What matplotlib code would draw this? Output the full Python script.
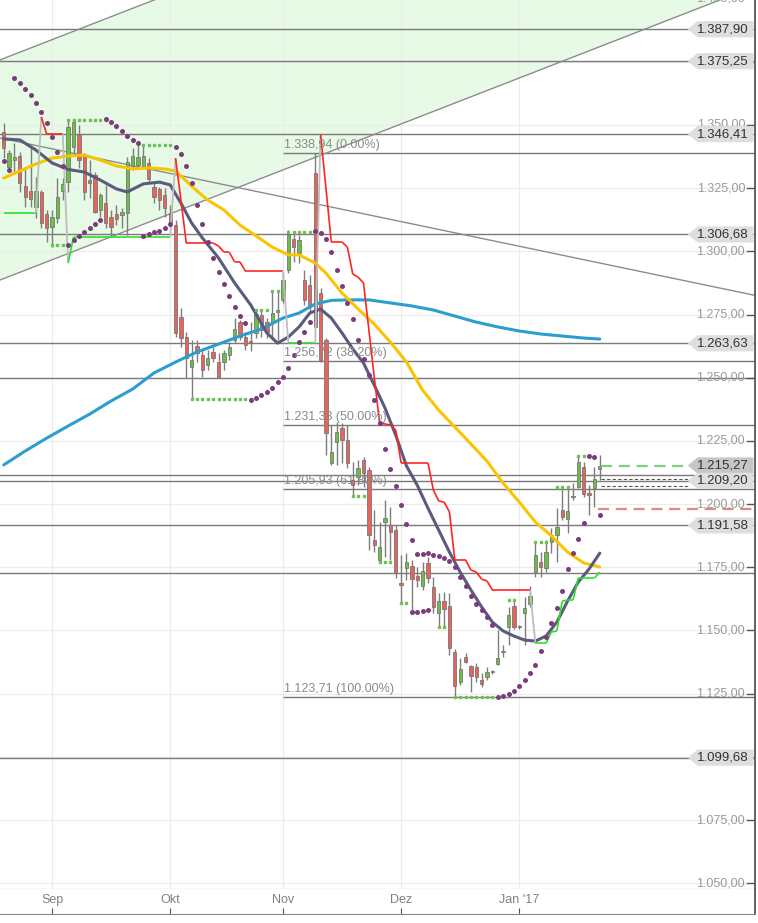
import numpy as np
import pandas as pd
import matplotlib
matplotlib.use("Agg")
import matplotlib.pyplot as plt
import matplotlib.transforms as mtransforms
from matplotlib.patches import Polygon
from matplotlib.collections import LineCollection

plt.rcParams['font.family'] = ['Liberation Sans', 'DejaVu Sans']

# ---- daily candles (gold, Aug 2016 - Jan 2017) ----
dates = pd.bdate_range('2016-08-19', '2017-01-23')

opens = [1347.2, 1333.4, 1336.1, 1337.7, 1325.9, 1323.9, 1317.6, 1323.5, 1314.8, 1309.6,
         1313.2, 1323.9, 1327.4, 1341.3, 1346.0, 1338.5, 1328.2, 1330.2, 1316.4, 1319.1,
         1313.6, 1314.8, 1314.4, 1315.2, 1333.8, 1334.2, 1333.8, 1335.0, 1325.5, 1324.7,
         1322.3, 1315.2, 1310.4, 1274.0, 1266.1, 1254.2, 1262.5, 1259.0, 1255.0, 1260.2,
         1256.2, 1256.2, 1259.0, 1264.9, 1272.0, 1266.1, 1264.5, 1267.7, 1274.8, 1272.0,
         1272.0, 1276.0, 1280.8, 1292.6, 1304.9, 1299.4, 1288.7, 1286.7, 1331.0, 1283.5,
         1264.9, 1216.3, 1224.6, 1230.1, 1225.3, 1209.5, 1210.7, 1217.4, 1213.5, 1185.8,
         1177.9, 1192.9, 1191.7, 1189.7, 1168.8, 1174.7, 1175.5, 1171.5, 1167.6, 1176.7,
         1167.2, 1156.9, 1161.6, 1159.7, 1141.5, 1129.6, 1139.5, 1135.9, 1135.5, 1130.4,
         1131.6, 1133.6, 1136.7, 1141.5, 1151.4, 1159.7, 1151.4, 1156.9, 1160.5, 1173.1,
         1177.1, 1174.7, 1185.0, 1187.8, 1197.7, 1194.1, 1202.8, 1206.8, 1214.7, 1204.4,
         1206.4, 1213.9]
highs = [1350.8, 1340.1, 1342.9, 1339.3, 1333.0, 1341.3, 1329.4, 1324.3, 1316.4, 1316.4,
         1329.0, 1329.0, 1352.0, 1352.0, 1350.0, 1338.9, 1336.1, 1331.4, 1323.1, 1326.3,
         1316.4, 1318.3, 1317.2, 1337.3, 1340.9, 1342.1, 1341.7, 1336.9, 1327.0, 1325.5,
         1325.1, 1318.3, 1312.4, 1277.6, 1268.1, 1264.9, 1264.9, 1261.0, 1261.0, 1262.2,
         1259.8, 1261.0, 1264.1, 1273.6, 1272.8, 1268.1, 1272.0, 1277.2, 1276.8, 1273.6,
         1283.9, 1284.7, 1291.8, 1308.5, 1306.9, 1306.5, 1292.6, 1290.6, 1338.94, 1285.5,
         1265.7, 1231.3, 1232.5, 1232.1, 1231.3, 1216.6, 1217.4, 1218.6, 1214.7, 1197.7,
         1192.9, 1201.6, 1198.8, 1191.7, 1179.9, 1180.6, 1177.9, 1175.1, 1177.1, 1179.1,
         1171.1, 1164.8, 1165.2, 1164.8, 1142.7, 1139.1, 1141.1, 1136.3, 1137.1, 1133.2,
         1135.5, 1134.3, 1150.2, 1144.2, 1159.3, 1162.0, 1152.2, 1163.2, 1167.6, 1185.0,
         1181.0, 1185.8, 1190.5, 1198.4, 1206.8, 1206.8, 1208.3, 1219.4, 1216.6, 1207.5,
         1214.7, 1219.4]
lows = [1336.9, 1331.4, 1331.4, 1323.5, 1317.6, 1317.6, 1313.2, 1309.2, 1303.7, 1301.7,
        1311.2, 1320.3, 1323.5, 1338.1, 1333.0, 1320.3, 1321.1, 1315.2, 1313.6, 1309.2,
        1305.7, 1310.4, 1309.2, 1306.5, 1332.2, 1333.0, 1333.4, 1327.0, 1319.1, 1316.4,
        1313.6, 1309.6, 1266.1, 1262.2, 1249.9, 1241.2, 1256.2, 1250.3, 1253.1, 1256.2,
        1249.9, 1253.1, 1257.0, 1263.7, 1264.9, 1261.0, 1260.6, 1265.7, 1266.1, 1265.7,
        1264.9, 1264.9, 1279.6, 1291.4, 1295.8, 1295.4, 1278.8, 1275.6, 1269.7, 1256.2,
        1219.4, 1215.5, 1215.5, 1216.3, 1214.3, 1202.8, 1207.5, 1206.8, 1181.8, 1181.0,
        1177.1, 1179.1, 1177.9, 1170.8, 1160.9, 1169.9, 1156.9, 1167.2, 1166.0, 1168.8,
        1156.9, 1151.4, 1151.4, 1140.3, 1123.71, 1128.4, 1137.1, 1125.6, 1129.6, 1127.6,
        1130.4, 1132.8, 1136.3, 1139.5, 1144.2, 1150.6, 1150.6, 1144.2, 1159.3, 1171.1,
        1171.1, 1173.1, 1180.6, 1177.1, 1193.7, 1188.5, 1201.6, 1206.4, 1202.8, 1195.7,
        1198.8, 1209.5]
closes = [1340.9, 1338.9, 1337.3, 1327.0, 1321.5, 1320.7, 1323.9, 1311.2, 1309.2, 1313.6,
          1321.5, 1326.7, 1349.2, 1351.2, 1336.1, 1323.5, 1327.0, 1315.6, 1322.3, 1311.2,
          1309.6, 1312.8, 1315.6, 1335.4, 1337.7, 1337.3, 1337.7, 1328.6, 1321.5, 1320.3,
          1317.2, 1311.6, 1267.7, 1265.7, 1257.8, 1257.0, 1259.8, 1253.1, 1257.8, 1257.8,
          1250.3, 1259.8, 1262.2, 1269.3, 1266.1, 1262.9, 1263.7, 1275.2, 1268.9, 1268.1,
          1275.6, 1276.8, 1288.7, 1306.5, 1301.7, 1304.5, 1280.8, 1278.8, 1270.1, 1257.0,
          1228.1, 1220.6, 1228.5, 1225.3, 1216.3, 1207.5, 1214.3, 1212.3, 1187.8, 1183.8,
          1183.0, 1194.5, 1189.0, 1172.7, 1168.0, 1177.1, 1170.4, 1169.9, 1173.5, 1170.8,
          1159.3, 1161.6, 1158.5, 1143.1, 1128.0, 1134.7, 1137.5, 1132.0, 1131.6, 1128.8,
          1133.6, 1133.9, 1139.1, 1141.8, 1156.1, 1151.4, 1151.6, 1158.9, 1163.6, 1179.9,
          1175.1, 1181.0, 1187.8, 1190.9, 1194.9, 1197.3, 1203.0, 1216.6, 1204.0, 1203.6,
          1209.9, 1215.27]

# ---- moving averages (read at sample candles) ----
sma50_idx = [0, 3, 6, 9, 12, 15, 18, 21, 24, 27, 30, 32, 34, 36, 38, 41, 44, 47, 50, 53,
             55, 58, 60, 63, 66, 69, 72, 75, 78, 81, 84, 87, 90, 93, 96, 99, 102, 105, 108, 111]
sma50 = [1329.0, 1331.8, 1334.6, 1336.9, 1337.7, 1338.1, 1336.1, 1333.8, 1332.6, 1333.0,
         1332.6, 1331.8, 1327.8, 1323.9, 1320.3, 1316.4, 1310.4, 1306.1, 1301.7, 1298.6,
         1298.6, 1295.4, 1291.4, 1283.5, 1277.2, 1271.2, 1264.1, 1256.2, 1245.1, 1237.2,
         1230.5, 1223.8, 1217.0, 1208.3, 1200.8, 1192.9, 1187.4, 1181.0, 1176.7, 1175.1]
sma20_idx = [0, 3, 6, 9, 12, 15, 18, 21, 23, 26, 29, 31, 33, 35, 37, 40, 43, 46, 49, 51,
             53, 55, 57, 59, 61, 63, 65, 67, 69, 71, 73, 75, 77, 79, 81, 83, 85, 87, 89, 91,
             93, 95, 97, 99, 101, 103, 105, 107, 109, 111]
sma20 = [1344.5, 1344.1, 1340.1, 1335.0, 1332.4, 1331.4, 1328.2, 1324.7, 1323.5, 1326.7,
         1327.4, 1326.3, 1319.1, 1311.2, 1305.3, 1297.4, 1287.5, 1278.8, 1267.7, 1263.7,
         1266.1, 1270.1, 1275.6, 1277.2, 1273.6, 1267.7, 1261.4, 1255.8, 1247.1, 1238.0,
         1227.3, 1215.1, 1207.5, 1198.4, 1189.7, 1181.0, 1173.1, 1166.0, 1159.3, 1153.3,
         1149.8, 1147.8, 1146.2, 1145.8, 1147.8, 1153.3, 1161.6, 1169.2, 1174.3, 1180.6]
sma200_idx = [0, 4, 8, 12, 16, 20, 24, 28, 32, 36, 40, 44, 48, 52, 55, 58, 61, 64, 68, 72,
              76, 80, 84, 88, 92, 96, 100, 104, 108, 111]
sma200 = [1215.5, 1221.0, 1226.1, 1230.9, 1235.6, 1240.8, 1245.5, 1251.9, 1256.2, 1260.2,
          1263.3, 1266.5, 1269.3, 1273.6, 1275.6, 1279.2, 1280.6, 1280.8, 1280.8, 1279.6,
          1278.4, 1276.8, 1274.4, 1272.0, 1270.1, 1268.5, 1267.3, 1266.5, 1265.7, 1265.3]

# ---- trailing stop line (1 = long/green, 0 = short/red) ----
stop = [1315.2, 1315.2, 1315.2, 1315.2, 1315.2, 1315.2, 1315.2, 1353.2, 1346.4, 1346.4,
        1346.4, 1346.4, 1295.4, 1305.7, 1305.7, 1305.7, 1305.7, 1305.7, 1305.7, 1305.7,
        1305.7, 1305.7, 1305.7, 1305.7, 1305.7, 1305.7, 1305.7, 1305.7, 1305.7, 1305.7,
        1305.7, 1305.7, 1336.9, 1320.3, 1303.3, 1303.3, 1303.3, 1303.3, 1303.3, 1303.3,
        1302.1, 1299.7, 1299.7, 1295.8, 1295.8, 1292.2, 1292.2, 1292.2, 1292.2, 1292.2,
        1292.2, 1292.2, 1292.2, 1263.63, 1263.63, 1263.63, 1263.63, 1263.63, 1263.63, 1346.41,
        1325.1, 1303.7, 1303.7, 1303.7, 1301.7, 1291.0, 1289.8, 1287.5, 1268.9, 1250.3,
        1232.1, 1231.7, 1231.3, 1229.3, 1216.3, 1216.3, 1216.3, 1216.3, 1216.3, 1216.3,
        1205.6, 1201.2, 1200.8, 1196.9, 1177.9, 1177.9, 1177.9, 1173.9, 1173.1, 1170.3,
        1169.6, 1166.0, 1166.0, 1166.0, 1166.0, 1166.0, 1166.0, 1166.0, 1166.0, 1145.0,
        1145.0, 1145.0, 1149.4, 1149.8, 1161.6, 1162.0, 1162.0, 1170.7, 1170.7, 1170.7,
        1170.7, 1173.1]
stop_up = [1, 1, 1, 1, 1, 1, 1, 0, 0, 0,
           0, 0, 1, 1, 1, 1, 1, 1, 1, 1,
           1, 1, 1, 1, 1, 1, 1, 1, 1, 1,
           1, 1, 0, 0, 0, 0, 0, 0, 0, 0,
           0, 0, 0, 0, 0, 0, 0, 0, 0, 0,
           0, 0, 0, 1, 1, 1, 1, 1, 1, 0,
           0, 0, 0, 0, 0, 0, 0, 0, 0, 0,
           0, 0, 0, 0, 0, 0, 0, 0, 0, 0,
           0, 0, 0, 0, 0, 0, 0, 0, 0, 0,
           0, 0, 0, 0, 0, 0, 0, 0, 0, 1,
           1, 1, 1, 1, 1, 1, 1, 1, 1, 1,
           1, 1]

# ---- parabolic SAR ----
sar = [1335.8, 1332.2, 1368.6, 1366.6, 1364.2, 1361.9, 1358.7, 1355.1, 1350.8, 1345.3,
       1339.3, 1333.8, 1302.5, 1304.5, 1306.1, 1307.7, 1309.2, 1310.8, 1312.4, 1352.4,
       1351.2, 1349.6, 1347.6, 1345.6, 1344.1, 1342.9, 1306.1, 1306.9, 1307.7, 1308.1,
       1309.2, 1310.8, 1341.3, 1338.5, 1333.8, 1327.0, 1318.3, 1310.8, 1303.7, 1297.4,
       1291.8, 1287.1, 1282.3, 1278.0, 1274.4, 1271.6, 1241.2, 1242.0, 1243.2, 1244.3,
       1245.9, 1248.3, 1250.3, 1253.8, 1259.0, 1264.1, 1268.1, 1272.0, 1308.1, 1307.3,
       1304.9, 1299.7, 1292.6, 1286.3, 1279.6, 1273.2, 1264.9, 1257.4, 1251.1, 1241.2,
       1232.1, 1221.8, 1213.9, 1207.2, 1199.6, 1192.1, 1185.8, 1180.2, 1180.2, 1180.6,
       1179.9, 1179.5, 1178.7, 1177.5, 1175.1, 1171.1, 1167.6, 1163.6, 1160.5, 1158.1,
       1155.3, 1152.2, 1123.7, 1124.1, 1124.8, 1126.0, 1128.0, 1130.4, 1133.2, 1136.3,
       1141.9, 1147.4, 1152.9, 1158.9, 1165.6, 1174.3, 1180.6, 1186.2, 1192.5, 1219.0,
       1218.6, 1195.7]
sar_extra_idx = [76, 77, 78, 79]
sar_extra = [1157.3, 1157.3, 1157.7, 1158.1]

# ---- dotted swing levels ----
swing_start = [9, 12, 26, 35, 47, 50, 53, 65, 70, 74, 81, 84, 94, 99, 103, 107]
swing_end = [11, 19, 31, 46, 49, 51, 58, 67, 72, 75, 82, 91, 95, 101, 105, 109]
swing_price = [1302.5, 1352.0, 1342.1, 1241.4, 1276.8, 1284.5, 1307.8, 1203.2, 1177.2,
               1160.7, 1151.4, 1123.7, 1162.0, 1185.0, 1206.9, 1219.0]

# ---- drawn objects ----
hlines = [1387.90, 1375.25, 1346.41, 1306.68, 1263.63, 1250.00, 1211.5, 1209.20,
          1191.58, 1172.7, 1099.68]
fib_start = 52
fib_levels = [1338.94, 1256.72, 1231.33, 1205.93, 1123.71]
fib_pct = ['0.00%', '38.20%', '50.00%', '61.80%', '100.00%']
chan_idx = [-1, 141]
chan_low = [1288.4, 1405.8]
chan_high = [1375.5, 1492.9]
down_line = [1345.0, 1282.1]
box_prices = [1387.90, 1375.25, 1346.41, 1306.68, 1263.63, 1215.27, 1209.20, 1191.58, 1099.68]
last_price = 1215.27
order_lines = [1209.8, 1207.3]
stop_order = 1198.2
# axis labels hidden behind a price box in the original are left out
price_ticks = [1050, 1075, 1125, 1150, 1175, 1200, 1225, 1250, 1275, 1300, 1325, 1350, 1400]
grid_ticks = list(range(1050, 1401, 25))


def de_fmt(v):
    s = f"{v:,.2f}"
    return s.replace(',', 'X').replace('.', ',').replace('X', '.')


o = np.array(opens); h = np.array(highs); l = np.array(lows); c = np.array(closes)
x = np.arange(len(dates))
xmin, xmax = -0.69, 139.9
ymin, ymax = 1047.7, 1399.46

fig = plt.figure(figsize=(7.58, 9.23), dpi=100)
ax = fig.add_axes([0, 34 / 923, 755 / 758, 889 / 923])
ax.set_xlim(xmin, xmax)
ax.set_ylim(ymin, ymax)
ax.set_xticks([]); ax.set_yticks([])
for s in ['top', 'left']:
    ax.spines[s].set_visible(False)
ax.spines['bottom'].set_color('#9a9a9a')
ax.spines['right'].set_color('#555555')
ax.spines['right'].set_linewidth(1.3)

blend = mtransforms.blended_transform_factory(ax.transAxes, ax.transData)

# month positions
month_idx = [i for i in range(1, len(dates)) if dates[i].month != dates[i - 1].month]
names = {1: 'Jan', 9: 'Sep', 10: 'Okt', 11: 'Nov', 12: 'Dez'}
month_lab = []
for i in month_idx:
    d = dates[i]
    lab = names[d.month]
    if d.month == 1:
        lab += " '" + str(d.year)[2:]
    month_lab.append(lab)

# grid
for v in grid_ticks:
    ax.axhline(v, color='#ececec', lw=0.9, zorder=0.5)
for i in month_idx:
    ax.axvline(i, color='#ececec', lw=0.9, zorder=0.5)

# channel
ax.fill_between(chan_idx, chan_low, chan_high, color='#e6fae6', zorder=0.2, lw=0)
ax.plot(chan_idx, chan_low, color='#8c8c8c', lw=1.0, zorder=1.6)
ax.plot(chan_idx, chan_high, color='#8c8c8c', lw=1.0, zorder=1.6)
ax.plot(chan_idx, down_line, color='#8c8c8c', lw=1.0, zorder=1.6)

# horizontal levels
for v in hlines:
    ax.axhline(v, color='#7a7a7a', lw=1.0, zorder=1.5)
for v, p in zip(fib_levels, fib_pct):
    ax.hlines(v, fib_start, xmax, color='#7a7a7a', lw=1.0, zorder=1.5)
    ax.text(fib_start + 0.2, v + 0.7, f"{de_fmt(v)} ({p})", fontsize=9,
            color='#8a8a8a', ha='left', va='bottom', zorder=6)

# price axis labels
for v in price_ticks:
    ax.text(0.987, v, de_fmt(v), transform=blend, ha='right', va='center',
            fontsize=9, color='#9a9a9a', zorder=6)
for v in grid_ticks:
    ax.plot([0.990, 0.998], [v, v], transform=blend, color='#555555', lw=1.0, zorder=6)

# candles
up = c >= o
ax.vlines(x, l, h, color='#7d7d7d', lw=1.0, zorder=3)
body_lo = np.minimum(o, c)
body_h = np.maximum(np.abs(c - o), 0.5)
ax.bar(x, body_h, bottom=body_lo, width=0.62,
       color=np.where(up, '#6cbf45', '#e9635b'), edgecolor='#777777',
       linewidth=0.6, zorder=3.2)

# moving averages
ax.plot(sma200_idx, sma200, color='#2b9ecf', lw=2.2, zorder=4, solid_capstyle='round')
ax.plot(sma50_idx, sma50, color='#fbc400', lw=2.2, zorder=4, solid_capstyle='round')
ax.plot(sma20_idx, sma20, color='#5b5b7e', lw=2.2, zorder=4.1, solid_capstyle='round')

# stop line
segs, cols, widths = [], [], []
for i in range(1, len(stop)):
    segs.append([(i - 1, stop[i - 1]), (i, stop[i])])
    if stop_up[i] != stop_up[i - 1]:
        cols.append('#bdbdbd'); widths.append(1.3)
    elif stop_up[i]:
        cols.append('#2be02b'); widths.append(1.2)
    else:
        cols.append('#ff2424'); widths.append(1.2)
ax.add_collection(LineCollection(segs, colors=cols, linewidths=widths, zorder=4.5))

# swing level dots
for s0, s1, p in zip(swing_start, swing_end, swing_price):
    xs = np.arange(s0, s1 + 1)
    ax.plot(xs, [p] * len(xs), ls='none', marker='s', ms=1.6, color='#6fbf5a', zorder=4.6)

# SAR
ax.plot(x, sar, ls='none', marker='o', ms=3.6, color='#7b3c7b', mew=0, zorder=5)
ax.plot(sar_extra_idx, sar_extra, ls='none', marker='o', ms=3.6, color='#7b3c7b', mew=0, zorder=5)

# order / stop lines at the right
x_last = len(dates) - 1
ax.hlines(last_price, x_last + 0.3, 127.8, color='#7fcf7f', lw=1.6, linestyles=(0, (5, 3)), zorder=5)
for v in order_lines:
    ax.hlines(v, x_last + 0.2, 127.8, color='#555555', lw=0.8, linestyles=(0, (3, 2)), zorder=5)
ax.hlines(stop_order, x_last - 0.4, xmax, color='#d98c8c', lw=1.6, linestyles=(0, (5, 3)), zorder=5)

# price boxes
bh = 3.2
for v in box_prices:
    fc = '#c6c6c6' if v == last_price else '#dedede'
    poly = Polygon([(0.911, v), (0.924, v + bh), (0.998, v + bh), (0.998, v - bh), (0.924, v - bh)],
                   closed=True, transform=blend, facecolor=fc, edgecolor='none', zorder=7)
    ax.add_patch(poly)
    ax.text(0.992, v, de_fmt(v), transform=blend, ha='right', va='center',
            fontsize=9.5, color='#333333', zorder=8)

# date strip
ax2 = fig.add_axes([0, 9 / 923, 755 / 758, 25 / 923])
ax2.set_xlim(xmin, xmax)
ax2.set_ylim(0, 1)
ax2.set_yticks([])
ax2.set_xticks(month_idx)
ax2.tick_params(axis='x', direction='in', length=4, color='#555555', labelbottom=False)
for s in ['top', 'left']:
    ax2.spines[s].set_visible(False)
ax2.spines['bottom'].set_color('#888888')
ax2.spines['right'].set_color('#555555')
ax2.spines['right'].set_linewidth(1.3)
for i, lab in zip(month_idx, month_lab):
    ax2.text(i, 0.55, lab, ha='center', va='center', fontsize=9, color='#808080')

fig.savefig('out.png', dpi=100)
